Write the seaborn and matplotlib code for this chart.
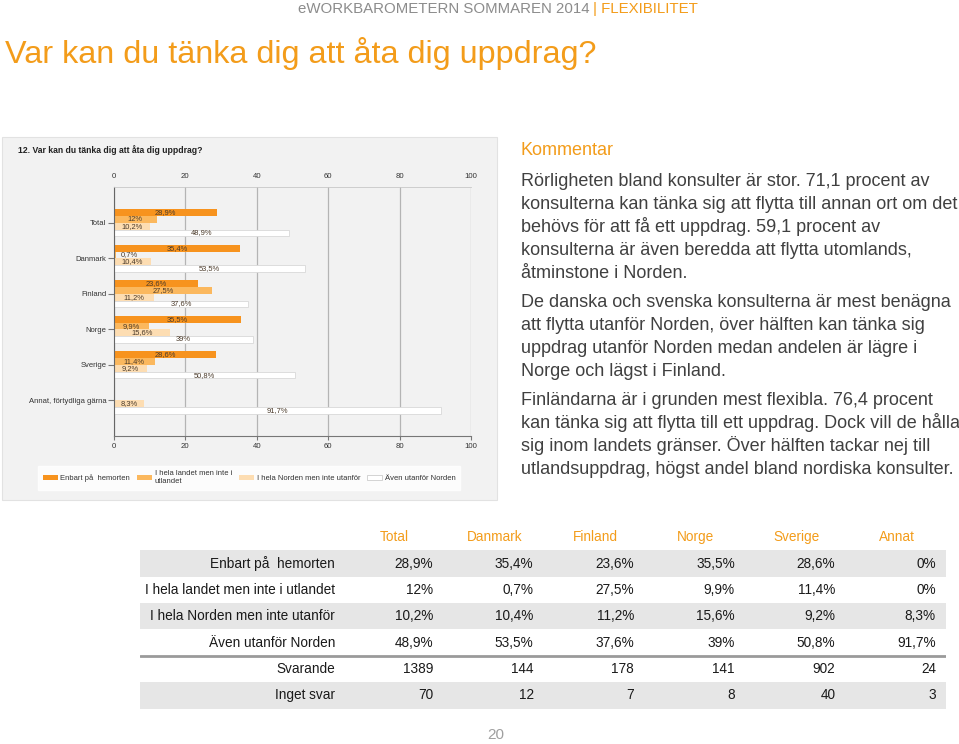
import numpy as np
import pandas as pd
import seaborn as sns
import matplotlib.pyplot as plt
from matplotlib.patches import Rectangle

# --- data -------------------------------------------------------------
groups = ['Total', 'Danmark', 'Finland', 'Norge', 'Sverige', 'Annat, förtydliga gärna']
series = ['Enbart på  hemorten', 'I hela landet men inte i utlandet',
          'I hela Norden men inte utanför', 'Även utanför Norden']
enbart = [28.9, 35.4, 23.6, 35.5, 28.6, 0]
hela_landet = [12, 0.7, 27.5, 9.9, 11.4, 0]
hela_norden = [10.2, 10.4, 11.2, 15.6, 9.2, 8.3]
aven_utanfor = [48.9, 53.5, 37.6, 39, 50.8, 91.7]

table_cols = ['Total', 'Danmark', 'Finland', 'Norge', 'Sverige', 'Annat']
svarande = [1389, 144, 178, 141, 902, 24]
inget_svar = [70, 12, 7, 8, 40, 3]

header_grey = 'eWORKBAROMETERN SOMMAREN 2014'
header_orange = '| FLEXIBILITET'
title = 'Var kan du tänka dig att åta dig uppdrag?'
chart_title = '12. Var kan du tänka dig att åta dig uppdrag?'
comment_head = 'Kommentar'
comment = [
    ['Rörligheten bland konsulter är stor. 71,1 procent av',
     'konsulterna kan tänka sig att flytta till annan ort om det',
     'behövs för att få ett uppdrag. 59,1 procent av',
     'konsulterna är även beredda att flytta utomlands,',
     'åtminstone i Norden.'],
    ['De danska och svenska konsulterna är mest benägna',
     'att flytta utanför Norden, över hälften kan tänka sig',
     'uppdrag utanför Norden medan andelen är lägre i',
     'Norge och lägst i Finland.'],
    ['Finländarna är i grunden mest flexibla. 76,4 procent',
     'kan tänka sig att flytta till ett uppdrag. Dock vill de hålla',
     'sig inom landets gränser. Över hälften tackar nej till',
     'utlandsuppdrag, högst andel bland nordiska konsulter.'],
]

ORANGE = '#F39C1A'
GREY_TXT = '#404040'
bar_colors = ['#F7931E', '#FBB85E', '#FDDDB2', '#FFFFFF']

sns.set_style('white')
plt.rcParams['font.family'] = ['Liberation Sans', 'DejaVu Sans']

W, H = 959, 744
fig = plt.figure(figsize=(W / 100, H / 100), dpi=100)


def fx(x):
    return x / W


def fy(y):
    return 1 - y / H


# --- slide texts ------------------------------------------------------
fig.text(fx(590), fy(13), header_grey, color='#8C8C8C', fontsize=10.8,
         ha='right', va='baseline')
fig.text(fx(593), fy(13), header_orange, color=ORANGE, fontsize=10.8,
         ha='left', va='baseline')
fig.text(fx(5), fy(63), title, color=ORANGE, fontsize=23.3, va='baseline')

fig.text(fx(521), fy(155), comment_head, color=ORANGE, fontsize=13, va='baseline')
y0 = 186
for para in comment:
    for line in para:
        fig.text(fx(521), fy(y0), line, color=GREY_TXT, fontsize=13, va='baseline')
        y0 += 23
    y0 += 6

fig.text(fx(496), fy(735), '20', color='#A0A0A0', fontsize=11, ha='center', va='center')

# --- chart panel ------------------------------------------------------
fig.patches.append(Rectangle((fx(2), fy(500)), fx(495), 363 / H, transform=fig.transFigure,
                             facecolor='#F2F2F2', edgecolor='#E2E2E2', lw=0.8, zorder=-10))
fig.text(fx(18), fy(150), chart_title, fontsize=6.25, fontweight='bold', color='#222222',
         va='center')

df = pd.DataFrame({
    'group': groups * 4,
    'serie': np.repeat(series, len(groups)),
    'value': enbart + hela_landet + hela_norden + aven_utanfor,
})

ax = fig.add_axes([fx(114), fy(436), 357 / W, 249 / H])
ax.patch.set_alpha(0)
sns.barplot(data=df, y='group', x='value', hue='serie', hue_order=series, order=groups,
            palette=bar_colors, saturation=1, orient='h', width=0.76, dodge=True, ax=ax,
            edgecolor='none', linewidth=0, legend=True)

for c, container in enumerate(ax.containers):
    for bar in container:
        w = bar.get_width()
        if c == 3:
            bar.set_edgecolor('#D8D8D8')
            bar.set_linewidth(0.6)
        if w <= 0:
            continue
        lab = ('%g%%' % w).replace('.', ',')
        ax.text(max(w / 2, 4.2), bar.get_y() + bar.get_height() / 2, lab,
                ha='center', va='center', fontsize=5.4, color='#4A3A2A')

ax.set_xlim(0, 100)
ax.set_ylim(6.0, -1.01)
ax.set_xticks([0, 20, 40, 60, 80, 100])
ax.grid(axis='x', color='#B4B4B4', lw=0.9)
ax.set_axisbelow(True)
ax.set_xlabel('')
ax.set_ylabel('')
ax.tick_params(axis='x', labeltop=True, top=False, bottom=True, length=3,
               labelsize=5.6, labelcolor='#333333', color='#777777', pad=2)
ax.tick_params(axis='y', left=True, length=4, labelsize=5.5, labelcolor='#333333',
               color='#777777', pad=1.5)
ax.spines['right'].set_visible(False)
ax.spines['left'].set_color('#666666')
ax.spines['bottom'].set_color('#777777')
ax.spines['top'].set_color('#C8C8C8')
ax.spines['top'].set_linewidth(0.6)

handles, labels = ax.get_legend_handles_labels()
labels = ['Enbart på  hemorten', 'I hela landet men inte i\nutlandet',
          'I hela Norden men inte utanför', 'Även utanför Norden']
ax.get_legend().remove()
leg = fig.legend(handles, labels, ncol=4, loc='lower left', mode='expand',
                 bbox_to_anchor=(fx(38), fy(490), 422 / W, 25 / H),
                 fontsize=5.5, frameon=True, fancybox=False, edgecolor='white',
                 handlelength=2.0, handleheight=0.66, handletextpad=0.3,
                 borderpad=0.6, borderaxespad=0, columnspacing=1.0, labelcolor='#333333')
leg.get_frame().set_facecolor('white')
leg.legend_handles[3].set_edgecolor('#CCCCCC')
leg.legend_handles[3].set_linewidth(0.6)

# --- table ------------------------------------------------------------
rows = [
    ('Enbart på  hemorten', enbart, '%'),
    ('I hela landet men inte i utlandet', hela_landet, '%'),
    ('I hela Norden men inte utanför', hela_norden, '%'),
    ('Även utanför Norden', aven_utanfor, '%'),
    ('Svarande', svarande, ''),
    ('Inget svar', inget_svar, ''),
]
tax = fig.add_axes([fx(140), fy(708.5), 806 / W, 184.5 / H])
tax.set_xlim(140, 946)
tax.set_ylim(5.5, -1.5)
tax.axis('off')
for i in [0, 2, 5]:
    tax.axhspan(i - 0.5, i + 0.5, color='#E6E6E6', lw=0)
tax.axhline(3.5, color='#9A9A9A', lw=2)
col_right = [433 + 100.6 * k for k in range(len(table_cols))]
for k, name in enumerate(table_cols):
    tax.text(col_right[k] - 39, -1, name, color=ORANGE, fontsize=9.8, ha='center', va='center')
for i, (name, vals, suf) in enumerate(rows):
    tax.text(335, i, name, color='#1A1A1A', fontsize=9.8, ha='right', va='center')
    for k, v in enumerate(vals):
        lab = ('%g' % v).replace('.', ',') + suf
        tax.text(col_right[k], i, lab, color='#1A1A1A', fontsize=9.8, ha='right', va='center')

fig.savefig('out.png', dpi=100)
